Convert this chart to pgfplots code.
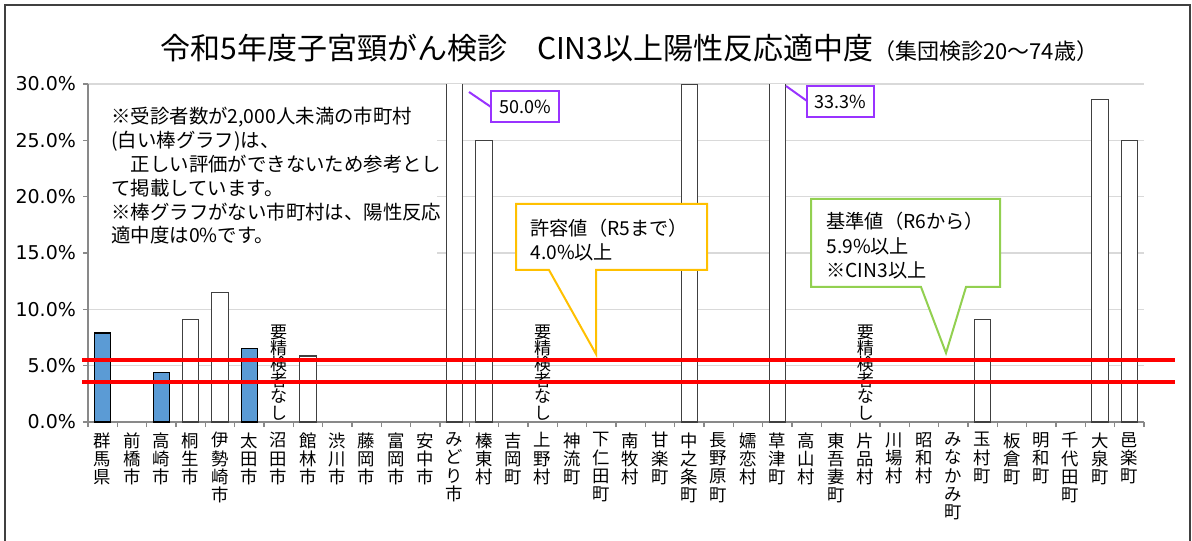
\documentclass[border=0pt]{standalone}
\usepackage{fontspec}
\setmainfont{Noto Sans CJK JP}
\newfontfamily\dejavu{DejaVu Sans}
\usepackage{pgfplots}
\pgfplotsset{compat=1.18}
\definecolor{barblue}{HTML}{5B9BD5}
\definecolor{gridgray}{HTML}{D9D9D9}
\definecolor{axgray}{HTML}{898989}
\definecolor{callyellow}{HTML}{FFC000}
\definecolor{callgreen}{HTML}{92D050}
\definecolor{lblpurple}{HTML}{9933FF}
\definecolor{framegray}{HTML}{404040}
\definecolor{baredge}{HTML}{404040}
\begin{document}
\begin{tikzpicture}[px/.style={x=0.5pt,y=-0.5pt,shift={(-44pt,211pt)}}]
\begin{scope}[px]
\path[use as bounding box] (0,0) rectangle (1192,540);
\fill[white] (0,0) rectangle (1192,540);
\draw[framegray, line width=1pt] (5,560) -- (5,5) -- (1190,5) -- (1190,560);
\end{scope}
\begin{axis}[
  scale only axis, width=528pt, height=169pt,
  xmin=-0.5, xmax=35.5, ymin=0, ymax=30,
  clip mode=individual,
  ybar, bar width=0.56, bar shift=0pt,
  axis x line*=bottom, axis y line*=left,
  axis line style={axgray, line width=0.6pt},
  xtick={0,...,35},
  xticklabels={{群\\馬\\県},{前\\橋\\市},{高\\崎\\市},{桐\\生\\市},{伊\\勢\\崎\\市},{太\\田\\市},{沼\\田\\市},{館\\林\\市},{渋\\川\\市},{藤\\岡\\市},{富\\岡\\市},{安\\中\\市},{み\\ど\\り\\市},{榛\\東\\村},{吉\\岡\\町},{上\\野\\村},{神\\流\\町},{下\\仁\\田\\町},{南\\牧\\村},{甘\\楽\\町},{中\\之\\条\\町},{長\\野\\原\\町},{嬬\\恋\\村},{草\\津\\町},{高\\山\\村},{東\\吾\\妻\\町},{片\\品\\村},{川\\場\\村},{昭\\和\\村},{み\\な\\か\\み\\町},{玉\\村\\町},{板\\倉\\町},{明\\和\\町},{千\\代\\田\\町},{大\\泉\\町},{邑\\楽\\町}},
  xticklabel style={align=center, font=\fontsize{8.7}{9.15}\selectfont, anchor=north, inner sep=0pt, yshift=-2.5pt},
  major x tick style={draw=none},
  minor xtick={-0.5,0.5,...,35.5},
  minor x tick style={axgray, line width=0.6pt},
  xtick align=outside, ytick align=outside,
  minor tick length=2.5pt, major tick length=2.5pt,
  ytick={0,5,...,30},
  y tick style={axgray, line width=0.6pt},
  yticklabel={\pgfmathprintnumber[fixed,fixed zerofill,precision=1]{\tick}\%},
  yticklabel style={font=\dejavu\fontsize{9.5}{11}\selectfont, /pgf/number format/assume math mode=true},
  ymajorgrids, grid style={gridgray, line width=0.75pt},
]
\addplot[fill=barblue, draw=black, line width=0.6pt] coordinates {(0,7.9) (2,4.4) (5,6.5)};
\addplot[fill=white, draw=baredge, line width=0.6pt] coordinates {(3,9.1) (4,11.5) (7,5.86) (12,50.0) (13,25.0) (20,30.0) (23,33.3) (30,9.1) (34,28.6) (35,25.0)};
\node[font=\fontsize{8.5}{8.1}\selectfont, align=center, anchor=south, inner sep=0pt] at (axis cs:6,0.15) {要\\精\\検\\者\\な\\し};
\node[font=\fontsize{8.5}{8.1}\selectfont, align=center, anchor=south, inner sep=0pt] at (axis cs:15,0.15) {要\\精\\検\\者\\な\\し};
\node[font=\fontsize{8.5}{8.1}\selectfont, align=center, anchor=south, inner sep=0pt] at (axis cs:26,0.15) {要\\精\\検\\者\\な\\し};
\draw[red, line width=2pt] (axis cs:-0.7,5.54) -- (axis cs:36.55,5.54);
\draw[red, line width=2pt] (axis cs:-0.7,3.55) -- (axis cs:36.55,3.55);
\end{axis}
\begin{scope}[px]
% note box
\fill[white] (89,88) rectangle (437,265);
\node[anchor=north west, align=left, inner sep=0pt, font=\fontsize{9.7}{11.9}\selectfont] at (111,107) {※受診者数が2,000人未満の市町村\\(白い棒グラフ)は、\\　正しい評価ができないため参考とし\\て掲載しています。\\※棒グラフがない市町村は、陽性反応\\適中度は0\%です。};
% yellow callout
\filldraw[fill=white, draw=callyellow, line width=1pt, line join=miter] (516,204) -- (707,204) -- (707,270) -- (596,270) -- (596,354) -- (549,270) -- (516,270) -- cycle;
\node[anchor=north west, align=left, inner sep=0pt, font=\fontsize{9.6}{12}\selectfont] at (530,219) {許容値（R5まで）\\4.0\%以上};
% green callout
\filldraw[fill=white, draw=callgreen, line width=1pt, line join=miter] (811,199) -- (1000,199) -- (1000,287) -- (966,287) -- (946,353) -- (921,287) -- (811,287) -- cycle;
\node[anchor=north west, align=left, inner sep=0pt, font=\fontsize{9.6}{12.2}\selectfont] at (826,212) {基準値（R6から）\\5.9\%以上\\※CIN3以上};
% purple labels
\draw[lblpurple, line width=1pt] (469,92) -- (491,107);
\filldraw[fill=white, draw=lblpurple, line width=1pt] (491,91) rectangle (559,122);
\node[font=\fontsize{9}{11}\selectfont, inner sep=0pt] at (525,106.5) {50.0\%};
\draw[lblpurple, line width=1pt] (786,86) -- (807,101);
\filldraw[fill=white, draw=lblpurple, line width=1pt] (807,86) rectangle (874,117);
\node[font=\fontsize{9}{11}\selectfont, inner sep=0pt] at (840.5,101.5) {33.3\%};
% title
\node[anchor=base west, inner sep=0pt] at (160,60) {{\fontsize{15}{18}\selectfont 令和5年度子宮頸がん検診　CIN3以上陽性反応適中度}{\fontsize{11}{13}\selectfont （集団検診20～74歳）}};
\end{scope}
\end{tikzpicture}
\end{document}
